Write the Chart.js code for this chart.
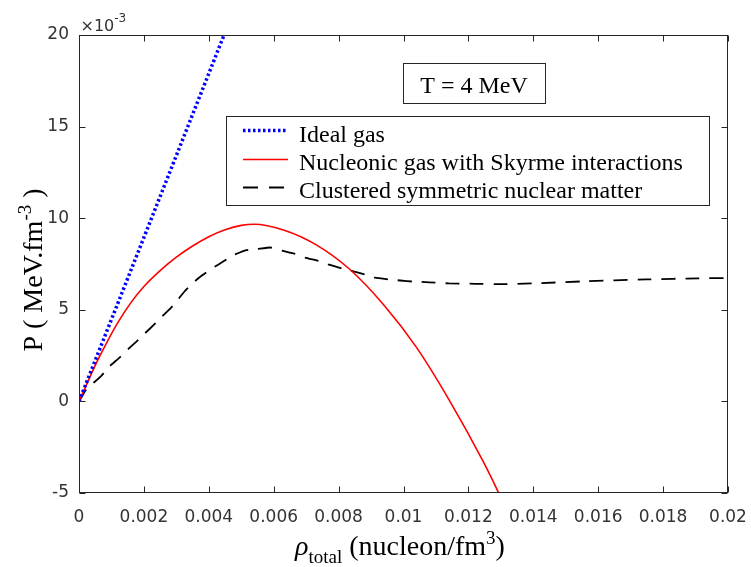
<!DOCTYPE html>
<html>
<head>
<meta charset="utf-8">
<script src="https://cdn.jsdelivr.net/npm/chart.js@4.4.1/dist/chart.umd.min.js"></script>
<style>
  html, body { margin: 0; padding: 0; background: #fff; }
  canvas { display: block; }
</style>
</head>
<body>
<canvas id="chart" width="751" height="567"></canvas>
<script>
const AXIS = "#262626";
const SERIF = "'Liberation Serif', 'Times New Roman', serif";
const SANS = "'DejaVu Sans', sans-serif";

// density in nucleon/fm^3, pressure in 1e-3 MeV fm^-3
const idealRho = [0, 0.00447];
const idealP = [0, 20];

const skyrmeRho = [0, 0.0003, 0.0006, 0.0009, 0.0012, 0.0016, 0.002, 0.0025, 0.003, 0.0035,
  0.004, 0.0045, 0.005, 0.0054, 0.0063, 0.0073, 0.00835, 0.0094, 0.0104, 0.0114,
  0.01245, 0.01292, 0.0132];
const skyrmeP = [0, 1.19, 2.33, 3.36, 4.31, 5.39, 6.27, 7.14, 7.87, 8.48,
  8.99, 9.37, 9.61, 9.67, 9.36, 8.56, 7.2, 5.25, 2.95, 0.1,
  -3.26, -4.95, -6.05];

const clusterRho = [0, 0.0002, 0.00042, 0.00068, 0.00093, 0.00124, 0.00145, 0.00176, 0.00201, 0.00232,
  0.00253, 0.00284, 0.003, 0.00325, 0.0035, 0.00381, 0.00412, 0.00443, 0.00474, 0.00515,
  0.0055, 0.0059, 0.00625, 0.00666, 0.00697, 0.00738, 0.00768, 0.0081, 0.0084, 0.00881,
  0.00912, 0.00953, 0.0099, 0.0103, 0.0108, 0.0114, 0.0122, 0.013, 0.014, 0.0155,
  0.0175, 0.0191, 0.02];
const clusterP = [0, 0.6, 0.97, 1.38, 1.9, 2.38, 2.75, 3.25, 3.68, 4.2,
  4.58, 5.12, 5.45, 6.0, 6.46, 6.9, 7.28, 7.62, 7.97, 8.26,
  8.32, 8.4, 8.23, 8.05, 7.85, 7.66, 7.48, 7.26, 7.12, 6.93,
  6.75, 6.66, 6.6, 6.54, 6.5, 6.44, 6.42, 6.4, 6.44, 6.55,
  6.66, 6.72, 6.73];

const seriesLabels = ["Ideal gas", "Nucleonic gas with Skyrme interactions", "Clustered symmetric nuclear matter"];
const tempLabel = "T = 4 MeV";
const xMin = 0, xMax = 0.02, xStep = 0.002;
const yMin = -5, yMax = 20, yStep = 5;

const styles = [
  { color: "#0000ff", width: 3.5, dash: [2.5, 2.5] },
  { color: "#ff0000", width: 1.6, dash: [] },
  { color: "#000000", width: 1.8, dash: [14, 10] },
];

function points(xs, ys) {
  return xs.map((x, i) => ({ x, y: ys[i] }));
}

// draws a sequence of text runs (for sub/superscripts); returns total width
function drawRuns(ctx, runs, x, y, measureOnly) {
  let cx = x;
  runs.forEach((r) => {
    ctx.font = `${r.italic ? "italic " : ""}${r.size}px ${SERIF}`;
    if (!measureOnly) ctx.fillText(r.text, cx, y + (r.dy || 0));
    cx += ctx.measureText(r.text).width;
  });
  return cx - x;
}

function drawCentered(ctx, runs, cx, y) {
  const w = drawRuns(ctx, runs, 0, 0, true);
  drawRuns(ctx, runs, cx - w / 2, y, false);
}

const frame = {
  id: "frame",
  afterDraw(chart) {
    const { ctx, chartArea: a, scales } = chart;
    const L = Math.round(a.left) + 0.5;
    const R = Math.round(a.right) - 0.5;
    const T = Math.round(a.top) + 0.5;
    const B = Math.round(a.bottom) - 0.5;
    const tick = 6;

    ctx.save();
    ctx.strokeStyle = AXIS;
    ctx.lineWidth = 1;
    ctx.setLineDash([]);
    ctx.strokeRect(L, T, R - L, B - T);

    ctx.beginPath();
    scales.x.ticks.forEach((t) => {
      const px = Math.round(scales.x.getPixelForValue(t.value)) + 0.5;
      ctx.moveTo(px, B); ctx.lineTo(px, B - tick);
      ctx.moveTo(px, T); ctx.lineTo(px, T + tick);
    });
    scales.y.ticks.forEach((t) => {
      const py = Math.round(scales.y.getPixelForValue(t.value)) + 0.5;
      ctx.moveTo(L, py); ctx.lineTo(L + tick, py);
      ctx.moveTo(R, py); ctx.lineTo(R - tick, py);
    });
    ctx.stroke();

    // axis exponent
    ctx.fillStyle = "#333";
    ctx.textAlign = "left";
    ctx.textBaseline = "alphabetic";
    ctx.font = `16px ${SANS}`;
    ctx.fillText("\u00d710", L + 1, T - 5);
    const ew = ctx.measureText("\u00d710").width;
    ctx.font = `12px ${SANS}`;
    ctx.fillText("-3", L + 1 + ew, T - 14);

    // temperature box
    ctx.fillStyle = "#fff";
    ctx.fillRect(403.5, 63.5, 142, 40);
    ctx.strokeRect(403.5, 63.5, 142, 40);
    ctx.fillStyle = "#000";
    ctx.font = `24px ${SERIF}`;
    ctx.textAlign = "center";
    ctx.fillText(tempLabel, 474, 93);

    // legend
    ctx.fillStyle = "#fff";
    ctx.fillRect(226.5, 116.5, 483, 89);
    ctx.strokeRect(226.5, 116.5, 483, 89);
    const rows = [141.5, 170, 198.3];
    ctx.textAlign = "left";
    seriesLabels.forEach((label, i) => {
      const s = styles[i];
      const ly = Math.round(rows[i] - 11.5) + 0.5;
      ctx.beginPath();
      ctx.strokeStyle = s.color;
      ctx.lineWidth = s.width;
      ctx.setLineDash(i === 2 ? [15, 11] : s.dash);
      ctx.moveTo(243, ly); ctx.lineTo(288, ly);
      ctx.stroke();
      ctx.fillStyle = "#000";
      ctx.font = `24px ${SERIF}`;
      ctx.fillText(label, 299, rows[i]);
    });
    ctx.setLineDash([]);

    // x title
    ctx.fillStyle = "#000";
    ctx.textAlign = "left";
    drawCentered(ctx, [
      { text: "\u03c1", size: 28, italic: true },
      { text: "total", size: 19, dy: 8 },
      { text: " (nucleon/fm", size: 28 },
      { text: "3", size: 19, dy: -11 },
      { text: ")", size: 28 },
    ], 400, 555);

    // y title
    ctx.translate(42, 270);
    ctx.rotate(-Math.PI / 2);
    drawCentered(ctx, [
      { text: "P ( MeV.fm", size: 28 },
      { text: "-3", size: 19, dy: -11 },
      { text: " )", size: 28 },
    ], 0, 0);
    ctx.restore();
  },
};

new Chart(document.getElementById("chart"), {
  type: "scatter",
  data: {
    datasets: [
      { data: points(idealRho, idealP), tension: 0 },
      { data: points(skyrmeRho, skyrmeP), cubicInterpolationMode: "monotone" },
      { data: points(clusterRho, clusterP), tension: 0.1 },
    ].map((d, i) => ({
      ...d,
      label: seriesLabels[i],
      showLine: true,
      pointRadius: 0,
      borderColor: styles[i].color,
      borderWidth: styles[i].width,
      borderDash: styles[i].dash,
      borderCapStyle: "butt",
      fill: false,
    })),
  },
  options: {
    responsive: false,
    animation: false,
    devicePixelRatio: 1,
    layout: { padding: { top: 35, right: 23, left: 0, bottom: 0 } },
    plugins: { legend: { display: false }, tooltip: { enabled: false } },
    scales: {
      x: {
        type: "linear",
        min: xMin,
        max: xMax,
        grid: { display: false, drawTicks: false },
        border: { display: false },
        afterFit: (s) => { s.height = 74; s.paddingLeft = 0; s.paddingRight = 0; },
        ticks: {
          stepSize: xStep,
          autoSkip: false,
          maxRotation: 0,
          padding: 14,
          color: "#333",
          font: { family: SANS, size: 17 },
          callback: (v) => String(Number(v.toFixed(3))),
        },
      },
      y: {
        type: "linear",
        min: yMin,
        max: yMax,
        grid: { display: false, drawTicks: false },
        border: { display: false },
        afterFit: (s) => { s.width = 79; s.paddingTop = 0; s.paddingBottom = 0; },
        ticks: {
          stepSize: yStep,
          padding: 10,
          color: "#333",
          font: { family: SANS, size: 17 },
          callback: (v) => String(v),
        },
      },
    },
  },
  plugins: [frame],
});
</script>
</body>
</html>
